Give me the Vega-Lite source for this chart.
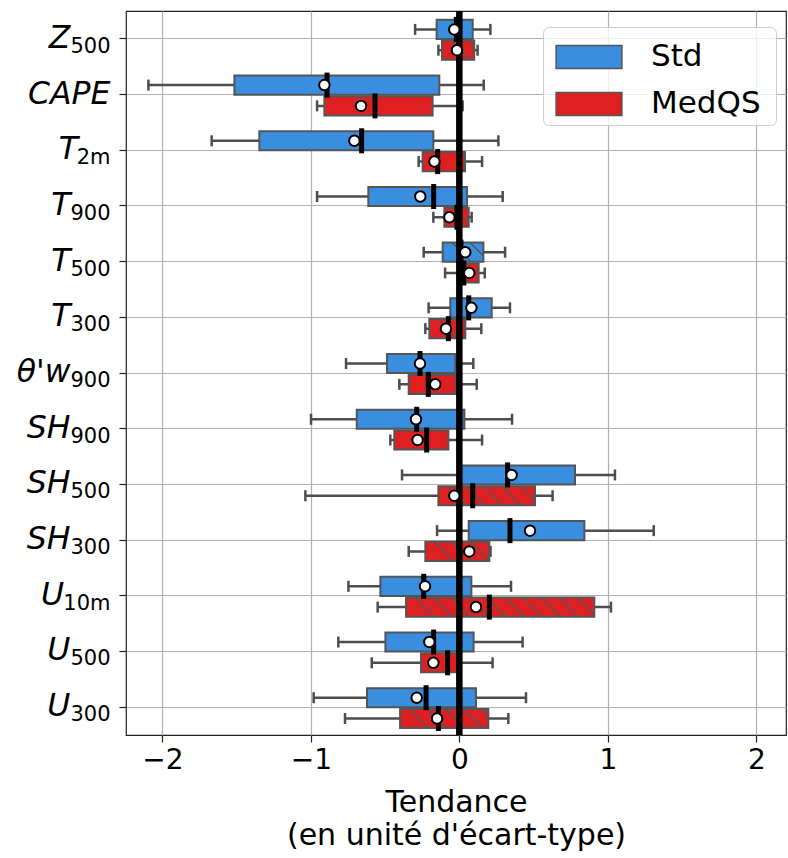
{
  "$schema": "https://vega.github.io/schema/vega-lite/v6.json",
  "width": 660,
  "height": 724,
  "autosize": {"type": "none"},
  "padding": {"left": 126, "top": 11, "right": 2, "bottom": 123},
  "config": {
    "font": "DejaVu Sans",
    "view": {"stroke": "#222222", "strokeWidth": 1.2},
    "axis": {"labelColor": "#000000", "titleColor": "#000000", "tickColor": "#222222", "tickWidth": 1.2, "gridColor": "#b0b0b0", "gridWidth": 1.2, "domain": false}
  },
  "data": {
    "values": [
      {"var": "Z_500", "group": "Std", "lo": -0.298, "q1": -0.153, "median": -0.02, "q3": 0.09, "hi": 0.209, "mean": -0.034, "hatch": false},
      {"var": "Z_500", "group": "MedQS", "lo": -0.141, "q1": -0.117, "median": -0.005, "q3": 0.1, "hi": 0.123, "mean": -0.016, "hatch": true},
      {"var": "CAPE", "group": "Std", "lo": -2.094, "q1": -1.515, "median": -0.891, "q3": -0.135, "hi": 0.164, "mean": -0.909, "hatch": false},
      {"var": "CAPE", "group": "MedQS", "lo": -0.958, "q1": -0.909, "median": -0.568, "q3": -0.18, "hi": 0.022, "mean": -0.662, "hatch": false},
      {"var": "T_2m", "group": "Std", "lo": -1.668, "q1": -1.347, "median": -0.658, "q3": -0.175, "hi": 0.263, "mean": -0.707, "hatch": false},
      {"var": "T_2m", "group": "MedQS", "lo": -0.274, "q1": -0.247, "median": -0.146, "q3": 0.038, "hi": 0.153, "mean": -0.168, "hatch": false},
      {"var": "T_900", "group": "Std", "lo": -0.958, "q1": -0.613, "median": -0.173, "q3": 0.052, "hi": 0.292, "mean": -0.263, "hatch": false},
      {"var": "T_900", "group": "MedQS", "lo": -0.175, "q1": -0.101, "median": -0.016, "q3": 0.063, "hi": 0.083, "mean": -0.067, "hatch": true},
      {"var": "T_500", "group": "Std", "lo": -0.24, "q1": -0.112, "median": 0.011, "q3": 0.162, "hi": 0.308, "mean": 0.04, "hatch": true},
      {"var": "T_500", "group": "MedQS", "lo": -0.096, "q1": -0.01, "median": 0.03, "q3": 0.13, "hi": 0.171, "mean": 0.067, "hatch": false},
      {"var": "T_300", "group": "Std", "lo": -0.207, "q1": -0.061, "median": 0.063, "q3": 0.218, "hi": 0.341, "mean": 0.081, "hatch": false},
      {"var": "T_300", "group": "MedQS", "lo": -0.229, "q1": -0.202, "median": -0.074, "q3": 0.04, "hi": 0.148, "mean": -0.09, "hatch": true},
      {"var": "θ'w_900", "group": "Std", "lo": -0.763, "q1": -0.487, "median": -0.265, "q3": -0.027, "hi": 0.094, "mean": -0.265, "hatch": false},
      {"var": "θ'w_900", "group": "MedQS", "lo": -0.404, "q1": -0.341, "median": -0.209, "q3": -0.022, "hi": 0.117, "mean": -0.162, "hatch": false},
      {"var": "SH_900", "group": "Std", "lo": -0.999, "q1": -0.691, "median": -0.287, "q3": 0.034, "hi": 0.355, "mean": -0.292, "hatch": false},
      {"var": "SH_900", "group": "MedQS", "lo": -0.465, "q1": -0.438, "median": -0.22, "q3": -0.074, "hi": 0.153, "mean": -0.281, "hatch": false},
      {"var": "SH_500", "group": "Std", "lo": -0.386, "q1": 0.0, "median": 0.325, "q3": 0.779, "hi": 1.048, "mean": 0.352, "hatch": false},
      {"var": "SH_500", "group": "MedQS", "lo": -1.037, "q1": -0.141, "median": 0.09, "q3": 0.51, "hi": 0.628, "mean": -0.034, "hatch": true},
      {"var": "SH_300", "group": "Std", "lo": -0.15, "q1": 0.063, "median": 0.341, "q3": 0.842, "hi": 1.309, "mean": 0.476, "hatch": false},
      {"var": "SH_300", "group": "MedQS", "lo": -0.341, "q1": -0.229, "median": 0.0, "q3": 0.202, "hi": 0.21, "mean": 0.067, "hatch": true},
      {"var": "U_10m", "group": "Std", "lo": -0.747, "q1": -0.532, "median": -0.24, "q3": 0.081, "hi": 0.348, "mean": -0.231, "hatch": false},
      {"var": "U_10m", "group": "MedQS", "lo": -0.55, "q1": -0.359, "median": 0.202, "q3": 0.909, "hi": 1.021, "mean": 0.112, "hatch": true},
      {"var": "U_500", "group": "Std", "lo": -0.815, "q1": -0.498, "median": -0.173, "q3": 0.096, "hi": 0.426, "mean": -0.202, "hatch": false},
      {"var": "U_500", "group": "MedQS", "lo": -0.59, "q1": -0.258, "median": -0.079, "q3": 0.0, "hi": 0.224, "mean": -0.175, "hatch": false},
      {"var": "U_300", "group": "Std", "lo": -0.981, "q1": -0.622, "median": -0.224, "q3": 0.112, "hi": 0.449, "mean": -0.287, "hatch": false},
      {"var": "U_300", "group": "MedQS", "lo": -0.77, "q1": -0.399, "median": -0.141, "q3": 0.195, "hi": 0.33, "mean": -0.15, "hatch": true}
    ]
  },
  "resolve": {"axis": {"y": "independent"}},
  "layer": [
    {
      "encoding": {
        "y": {
          "field": "var", "type": "nominal",
          "sort": ["Z_500", "CAPE", "T_2m", "T_900", "T_500", "T_300", "θ'w_900", "SH_900", "SH_500", "SH_300", "U_10m", "U_500", "U_300"],
          "scale": {"paddingInner": 0, "paddingOuter": 0},
          "axis": {"title": null, "orient": "left", "labelFontSize": 31.5, "labelFontStyle": "italic", "tickSize": 7, "labelPadding": 9, "bandPosition": 0.5, "grid": true,
            "labelExpr": "split(datum.value, '_')[0] + (indexof(datum.value, '_') < 0 ? '' : (indexof(datum.value, '10m') >= 0 ? '\u2007\u2007\u2009\u2060' : (indexof(datum.value, '2m') >= 0 ? '\u2007\u2009\u2009\u2060' : '\u2007\u2007\u2060')))"}
        },
        "yOffset": {"field": "group", "type": "nominal", "sort": ["Std", "MedQS"], "scale": {"paddingInner": 0.08, "paddingOuter": 0.38, "align": 0.56}}
      },
      "layer": [
        {
          "mark": {"type": "rule", "color": "#4d4d4d", "strokeWidth": 2.5},
          "encoding": {
            "x": {"field": "lo", "type": "quantitative", "scale": {"domain": [-2.245, 2.2], "nice": false, "zero": false},
              "axis": {"title": ["Tendance", "(en unité d'écart-type)"], "values": [-2, -1, 0, 1, 2], "format": "d", "grid": true, "tickSize": 7, "labelFontSize": 28, "labelPadding": 4, "titleFontSize": 30, "titleFontWeight": "normal", "titlePadding": 13, "titleLineHeight": 33}},
            "x2": {"field": "hi"}
          }
        },
        {"mark": {"type": "tick", "color": "#4d4d4d", "size": 11, "thickness": 2.5, "opacity": 1}, "encoding": {"x": {"field": "lo", "type": "quantitative"}}},
        {"mark": {"type": "tick", "color": "#4d4d4d", "size": 11, "thickness": 2.5, "opacity": 1}, "encoding": {"x": {"field": "hi", "type": "quantitative"}}},
        {
          "mark": {"type": "bar", "stroke": "#555555", "strokeWidth": 2, "opacity": 1},
          "encoding": {
            "x": {"field": "q1", "type": "quantitative"},
            "x2": {"field": "q3"},
            "color": {"field": "group", "type": "nominal", "scale": {"domain": ["Std", "MedQS"], "range": ["#3a8ee0", "#de2022"]},
              "legend": {"title": null, "orient": "none", "legendX": 417, "legendY": 16, "labelFontSize": 31, "labelColor": "#000000",
                "labelExpr": "datum.label + '\u2009\u200a\u2060'",
                "symbolType": "M-1.43,-0.5H1.43V0.5H-1.43Z", "symbolSize": 2116, "symbolStrokeColor": "#555555", "symbolStrokeWidth": 1.5, "symbolOpacity": 1, "symbolOffset": 16,
                "fillColor": "rgba(255,255,255,0.8)", "strokeColor": "#cccccc", "cornerRadius": 6, "padding": 6, "rowPadding": 8, "labelOffset": 38}}
          }
        },
        {
          "transform": [{"filter": "datum.hatch"}],
          "mark": {"type": "bar", "strokeWidth": 0, "opacity": 1,
            "fill": {"expr": "{gradient: 'linear', x1: 0, y1: 0, x2: 252 * abs(scale('x', datum.q3) - scale('x', datum.q1)) / (pow(scale('x', datum.q3) - scale('x', datum.q1), 2) + 365), y2: -252 * 19.1 / (pow(scale('x', datum.q3) - scale('x', datum.q1), 2) + 365), stops: [{offset: 0.0318, color: 'rgba(85,85,85,0)'}, {offset: 0.0318, color: '#555555'}, {offset: 0.0396, color: '#555555'}, {offset: 0.0396, color: 'rgba(85,85,85,0)'}, {offset: 0.1032, color: 'rgba(85,85,85,0)'}, {offset: 0.1032, color: '#555555'}, {offset: 0.1110, color: '#555555'}, {offset: 0.1110, color: 'rgba(85,85,85,0)'}, {offset: 0.1747, color: 'rgba(85,85,85,0)'}, {offset: 0.1747, color: '#555555'}, {offset: 0.1825, color: '#555555'}, {offset: 0.1825, color: 'rgba(85,85,85,0)'}, {offset: 0.2461, color: 'rgba(85,85,85,0)'}, {offset: 0.2461, color: '#555555'}, {offset: 0.2539, color: '#555555'}, {offset: 0.2539, color: 'rgba(85,85,85,0)'}, {offset: 0.3175, color: 'rgba(85,85,85,0)'}, {offset: 0.3175, color: '#555555'}, {offset: 0.3253, color: '#555555'}, {offset: 0.3253, color: 'rgba(85,85,85,0)'}, {offset: 0.3889, color: 'rgba(85,85,85,0)'}, {offset: 0.3889, color: '#555555'}, {offset: 0.3967, color: '#555555'}, {offset: 0.3967, color: 'rgba(85,85,85,0)'}, {offset: 0.4604, color: 'rgba(85,85,85,0)'}, {offset: 0.4604, color: '#555555'}, {offset: 0.4682, color: '#555555'}, {offset: 0.4682, color: 'rgba(85,85,85,0)'}, {offset: 0.5318, color: 'rgba(85,85,85,0)'}, {offset: 0.5318, color: '#555555'}, {offset: 0.5396, color: '#555555'}, {offset: 0.5396, color: 'rgba(85,85,85,0)'}, {offset: 0.6032, color: 'rgba(85,85,85,0)'}, {offset: 0.6032, color: '#555555'}, {offset: 0.6110, color: '#555555'}, {offset: 0.6110, color: 'rgba(85,85,85,0)'}, {offset: 0.6747, color: 'rgba(85,85,85,0)'}, {offset: 0.6747, color: '#555555'}, {offset: 0.6825, color: '#555555'}, {offset: 0.6825, color: 'rgba(85,85,85,0)'}, {offset: 0.7461, color: 'rgba(85,85,85,0)'}, {offset: 0.7461, color: '#555555'}, {offset: 0.7539, color: '#555555'}, {offset: 0.7539, color: 'rgba(85,85,85,0)'}, {offset: 0.8175, color: 'rgba(85,85,85,0)'}, {offset: 0.8175, color: '#555555'}, {offset: 0.8253, color: '#555555'}, {offset: 0.8253, color: 'rgba(85,85,85,0)'}, {offset: 0.8889, color: 'rgba(85,85,85,0)'}, {offset: 0.8889, color: '#555555'}, {offset: 0.8967, color: '#555555'}, {offset: 0.8967, color: 'rgba(85,85,85,0)'}, {offset: 0.9604, color: 'rgba(85,85,85,0)'}, {offset: 0.9604, color: '#555555'}, {offset: 0.9682, color: '#555555'}, {offset: 0.9682, color: 'rgba(85,85,85,0)'}]}"}},
          "encoding": {
            "x": {"field": "q1", "type": "quantitative"},
            "x2": {"field": "q3"}
          }
        }
      ]
    },
    {
      "data": {"values": [{"zero": 0}]},
      "mark": {"type": "rule", "color": "#000000", "strokeWidth": 6.5},
      "encoding": {"x": {"field": "zero", "type": "quantitative"}}
    },
    {
      "encoding": {
        "y": {"field": "var", "type": "nominal", "sort": ["Z_500", "CAPE", "T_2m", "T_900", "T_500", "T_300", "θ'w_900", "SH_900", "SH_500", "SH_300", "U_10m", "U_500", "U_300"],
          "axis": {"title": null, "orient": "left", "labelFontSize": 21, "ticks": false, "tickSize": 0, "grid": false, "labelPadding": 16, "labelOffset": 8, "bandPosition": 0.5,
            "labelExpr": "indexof(datum.value, '_') < 0 ? '' : split(datum.value, '_')[1]"}},
        "yOffset": {"field": "group", "type": "nominal", "sort": ["Std", "MedQS"]}
      },
      "layer": [
        {"mark": {"type": "tick", "color": "#000000", "size": 25, "thickness": 5, "opacity": 1}, "encoding": {"x": {"field": "median", "type": "quantitative"}}},
        {"mark": {"type": "point", "filled": true, "fill": "#ffffff", "stroke": "#000000", "strokeWidth": 2, "size": 110, "opacity": 1}, "encoding": {"x": {"field": "mean", "type": "quantitative"}}}
      ]
    }
  ]
}
